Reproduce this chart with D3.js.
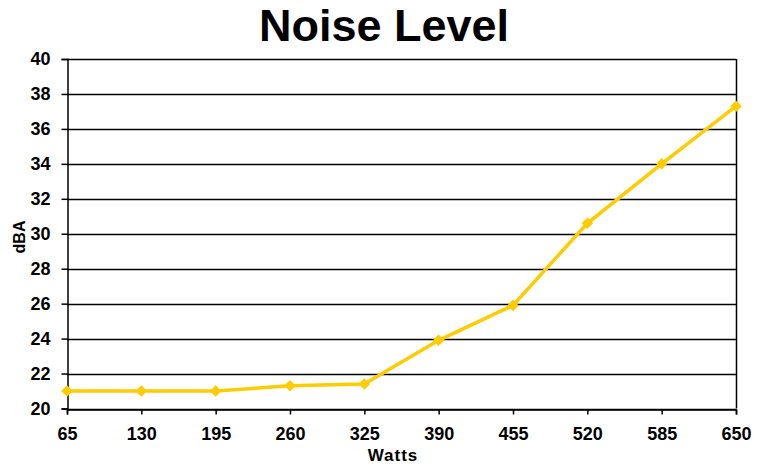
<!DOCTYPE html>
<html>
<head>
<meta charset="utf-8">
<script src="https://cdn.jsdelivr.net/npm/d3@7"></script>
<style>
  body { margin: 0; background: #fff; }
  text { font-family: Arial, "Liberation Sans", sans-serif; font-weight: bold; fill: #000; }
</style>
</head>
<body>
<script>
// chart data
var watts = [65, 130, 195, 260, 325, 390, 455, 520, 585, 650];
var dba = [21.0, 21.0, 21.0, 21.3, 21.4, 23.9, 25.9, 30.6, 34.0, 37.3];
var yTicks = [20, 22, 24, 26, 28, 30, 32, 34, 36, 38, 40];

var width = 773, height = 469;
var margin = {top: 59, right: 37, bottom: 60.5, left: 67};

var svg = d3.select("body")
  .append("svg")
  .attr("width", width)
  .attr("height", height);

// scales
var x = d3.scalePoint()
  .domain(watts)
  .range([margin.left, width - margin.right]);

var y = d3.scaleLinear()
  .domain([20, 40])
  .range([height - margin.bottom, margin.top]);

// horizontal grid lines
svg.append("g")
  .selectAll("line")
  .data(yTicks)
  .enter()
  .append("line")
  .attr("x1", margin.left)
  .attr("x2", width - margin.right)
  .attr("y1", function(d) { return Math.round(y(d)) + 0.5; })
  .attr("y2", function(d) { return Math.round(y(d)) + 0.5; })
  .attr("stroke", "#000")
  .attr("stroke-width", 1.5);

// right border
svg.append("line")
  .attr("x1", width - margin.right + 0.5)
  .attr("x2", width - margin.right + 0.5)
  .attr("y1", y(40))
  .attr("y2", y(20))
  .attr("stroke", "#000")
  .attr("stroke-width", 1.5);

// y axis
var yAxis = d3.axisLeft(y).tickValues(yTicks).tickSize(6).tickPadding(11);
var gy = svg.append("g")
  .attr("transform", "translate(" + (margin.left + 0.5) + ",0)")
  .call(yAxis);
gy.select(".domain").attr("stroke", "#000").attr("stroke-width", 1.5);
gy.selectAll(".tick line").attr("stroke-width", 1.5);
gy.selectAll("text")
  .style("font-size", "18px")
  .style("font-family", "Arial, 'Liberation Sans', sans-serif")
  .style("font-weight", "bold")
  .attr("fill", "#000");

// x axis
var xAxis = d3.axisBottom(x).tickSize(5).tickPadding(13);
var gx = svg.append("g")
  .attr("transform", "translate(0," + (Math.round(y(20)) + 0.5) + ")")
  .call(xAxis);
gx.select(".domain").attr("stroke", "#000").attr("stroke-width", 1.5);
gx.selectAll(".tick line").attr("stroke-width", 1.5);
gx.selectAll("text")
  .style("font-size", "18px")
  .style("font-family", "Arial, 'Liberation Sans', sans-serif")
  .style("font-weight", "bold")
  .attr("fill", "#000");

// line
var line = d3.line()
  .x(function(d, i) { return x(watts[i]); })
  .y(function(d) { return y(d); });

svg.append("path")
  .datum(dba)
  .attr("d", line)
  .attr("fill", "none")
  .attr("stroke", "#FFCC00")
  .attr("stroke-width", 3.5);

// diamond markers
svg.selectAll(".marker")
  .data(dba)
  .enter()
  .append("path")
  .attr("class", "marker")
  .attr("d", d3.symbol().type(d3.symbolDiamond2).size(85))
  .attr("transform", function(d, i) {
    return "translate(" + x(watts[i]) + "," + y(d) + ")";
  })
  .attr("fill", "#FFCC00");

// title
svg.append("text")
  .attr("x", 384)
  .attr("y", 41)
  .attr("text-anchor", "middle")
  .style("font-size", "45px")
  .text("Noise Level");

// axis titles
svg.append("text")
  .attr("x", 393)
  .attr("y", 461)
  .attr("text-anchor", "middle")
  .style("font-size", "17px")
  .style("letter-spacing", "1px")
  .text("Watts");

svg.append("text")
  .attr("transform", "translate(25,237)rotate(-90)")
  .attr("text-anchor", "middle")
  .style("font-size", "16px")
  .text("dBA");
</script>
</body>
</html>
